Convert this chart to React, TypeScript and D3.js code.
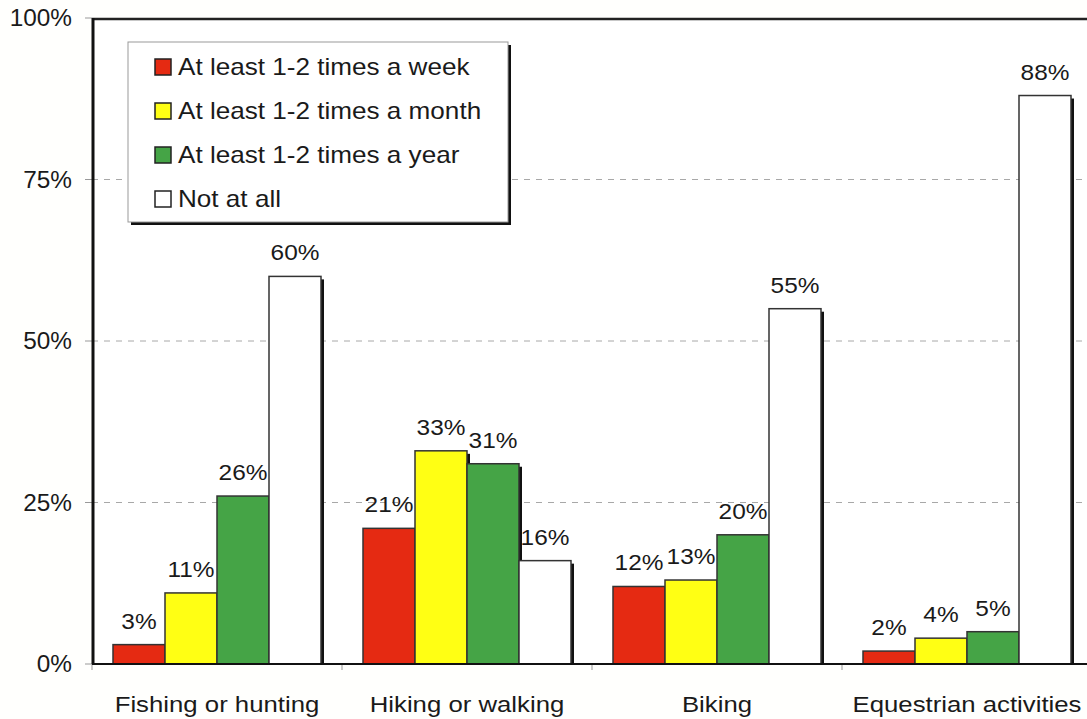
import React from "react";
import * as d3 from "d3";

const categories = ["Fishing or hunting", "Hiking or walking", "Biking", "Equestrian activities"];
const seriesNames = [
  "At least 1-2 times a week",
  "At least 1-2 times a month",
  "At least 1-2 times a year",
  "Not at all",
];
const seriesColors = ["#e52a12", "#ffff14", "#45a446", "#ffffff"];
const weekly = [3, 21, 12, 2];
const monthly = [11, 33, 13, 4];
const yearly = [26, 31, 20, 5];
const notAtAll = [60, 16, 55, 88];
const yTicks = [0, 25, 50, 75, 100];

const W = 1087;
const H = 719;
const FONT = "'Liberation Sans', Arial, sans-serif";

function T(props: {
  x: number;
  y: number;
  size: number;
  sx: number;
  anchor?: string;
  children: React.ReactNode;
}) {
  return (
    <text
      transform={`translate(${props.x},${props.y}) scale(${props.sx},1)`}
      textAnchor={props.anchor || "start"}
      fontSize={props.size}
      fill="#1a1a1a"
    >
      {props.children}
    </text>
  );
}

export default function App() {
  const series = [weekly, monthly, yearly, notAtAll];
  const y = d3.scaleLinear().domain([0, 100]).range([664, 18]);
  const x = d3.scaleBand<string>().domain(categories).range([92, 1092]);
  const xi = d3
    .scaleBand<number>()
    .domain(d3.range(series.length))
    .range([21, 229]);
  const left = 92;
  const right = 1092;

  return (
    <svg
      width={W}
      height={H}
      style={{ position: "absolute", left: 0, top: 0, background: "#fffffd" }}
      fontFamily={FONT}
    >
      <rect x={0} y={0} width={W} height={H} fill="#fffffd" />
      <rect x={left} y={y(100)} width={right - left} height={y(0) - y(100)} fill="#ffffff" />
      {yTicks
        .filter((t) => t > 0 && t < 100)
        .map((t) => (
          <line
            key={t}
            x1={left}
            x2={right}
            y1={y(t)}
            y2={y(t)}
            stroke="#a8a8a8"
            strokeWidth={1}
            strokeDasharray="6,6"
          />
        ))}
      {yTicks.map((t) => (
        <g key={"yt" + t}>
          <line x1={85} x2={left} y1={y(t)} y2={y(t)} stroke="#999" strokeWidth={1} />
          <T x={72} y={y(t) + 8} size={23} sx={1.06} anchor="end">
            {t}%
          </T>
        </g>
      ))}
      {categories.map((c, ci) => (
        <g key={c}>
          {series.map((s, si) => {
            const bx = (x(c) as number) + (xi(si) as number);
            const bw = xi.bandwidth();
            const by = y(s[ci]);
            const bh = y(0) - by;
            return (
              <g key={si}>
                <rect x={bx + 3} y={by + 3} width={bw} height={bh - 3} fill="#111" />
                <rect
                  x={bx}
                  y={by}
                  width={bw}
                  height={bh}
                  fill={seriesColors[si]}
                  stroke="#333"
                  strokeWidth={1.5}
                />
                <T x={bx + bw / 2} y={by - 16} size={22} sx={1.11} anchor="middle">
                  {s[ci]}%
                </T>
              </g>
            );
          })}
          <line
            x1={x(c) as number}
            x2={x(c) as number}
            y1={y(0)}
            y2={y(0) + 6}
            stroke="#999"
            strokeWidth={1}
          />
          <T x={(x(c) as number) + x.bandwidth() / 2} y={712} size={23} sx={1.12} anchor="middle">
            {c}
          </T>
        </g>
      ))}
      <line x1={left} x2={right} y1={y(0)} y2={y(0)} stroke="#111" strokeWidth={2} />
      <line x1={left} x2={right} y1={y(100) + 1} y2={y(100) + 1} stroke="#222" strokeWidth={2.5} />
      <line x1={left + 1} x2={left + 1} y1={y(100)} y2={y(0)} stroke="#111" strokeWidth={3} />
      <g>
        <rect x={131} y={45} width={380} height={180} fill="#111" />
        <rect x={128} y={42} width={380} height={180} fill="#ffffff" stroke="#999" strokeWidth={1} />
        {seriesNames.map((n, i) => (
          <g key={n} transform={`translate(155, ${67 + i * 44})`}>
            <rect
              x={0}
              y={-8}
              width={16}
              height={16}
              fill={seriesColors[i]}
              stroke="#222"
              strokeWidth={1.5}
            />
            <T x={23} y={8} size={23} sx={1.135}>
              {n}
            </T>
          </g>
        ))}
      </g>
    </svg>
  );
}
